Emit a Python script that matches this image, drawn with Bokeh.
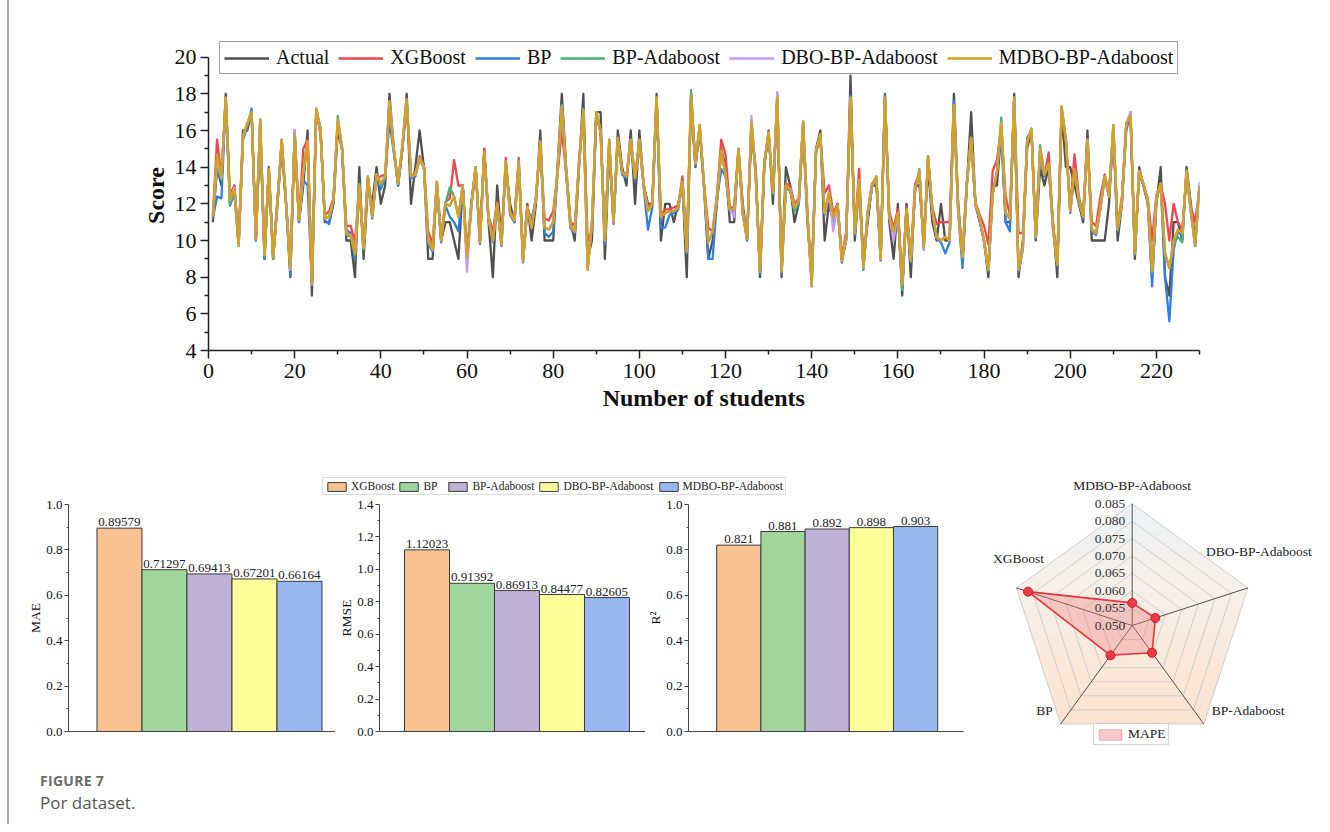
import math
from bokeh.plotting import figure
from bokeh.models import (Range1d, FixedTicker, PrintfTickFormatter, Legend, LegendItem,
                          ColumnDataSource, Div)
from bokeh.layouts import column, row
from bokeh.embed import file_html
from bokeh.resources import INLINE
from bokeh.core.properties import value

SERIF = "Liberation Serif"

# ---------------- data: line chart ----------------
students = list(range(1, 231))

actual = [
    11, 14, 13, 18, 12, 13, 10, 16, 16, 17,
    10, 16, 9, 14, 9, 12, 15, 12, 8, 16,
    11, 13, 16, 7, 17, 16, 11, 11, 12, 16,
    15, 10, 10, 8, 14, 9, 13, 12, 14, 12,
    13, 18, 15, 13, 15, 18, 12, 14, 16, 14,
    9, 9, 13, 10, 11, 11, 10, 9, 13, 9,
    12, 14, 10, 15, 11, 8, 13, 10, 14, 12,
    11, 14, 9, 12, 10, 12, 16, 10, 10, 10,
    14, 18, 14, 11, 10, 14, 18, 9, 10, 17,
    17, 9, 15, 11, 16, 14, 13, 16, 12, 16,
    13, 12, 12, 18, 10, 12, 12, 11, 12, 13,
    8, 18, 14, 16, 13, 9, 10, 12, 15, 14,
    11, 11, 15, 12, 10, 16, 14, 8, 14, 16,
    12, 18, 8, 14, 13, 11, 12, 16, 11, 8,
    15, 16, 10, 12, 11, 12, 9, 10, 19, 10,
    13, 9, 11, 13, 13, 9, 18, 11, 9, 12,
    7, 12, 8, 13, 13, 10, 14, 11, 10, 12,
    10, 10, 18, 12, 9, 13, 17, 12, 11, 10,
    8, 13, 13, 16, 11, 11, 18, 8, 10, 15,
    16, 10, 14, 13, 14, 11, 8, 17, 14, 14,
    13, 12, 11, 16, 10, 10, 10, 10, 12, 16,
    10, 12, 16, 17, 9, 14, 13, 12, 8, 12,
    14, 8, 7, 11, 11, 10, 14, 12, 10, 13]

xgboost = [
    11.4, 15.5, 13.4, 17.6, 12.5, 13.0, 9.9, 15.6, 16.2, 16.9,
    10.2, 16.4, 9.3, 13.8, 9.3, 12.2, 15.4, 12.0, 8.8, 15.6,
    11.2, 15.0, 15.5, 7.8, 17.1, 15.8, 11.4, 11.6, 12.3, 16.4,
    14.9, 10.8, 10.8, 9.9, 12.9, 9.8, 13.4, 11.5, 13.4, 13.5,
    13.6, 17.4, 15.0, 13.2, 15.1, 17.5, 13.5, 13.7, 14.6, 14.1,
    10.5, 9.8, 13.1, 10.2, 12.1, 12.3, 14.4, 13.0, 13.0, 9.4,
    12.0, 14.0, 10.0, 15.0, 11.3, 10.5, 12.1, 10.0, 14.5, 11.6,
    11.2, 14.5, 9.1, 11.9, 10.8, 12.4, 15.3, 11.2, 11.1, 11.6,
    13.6, 16.0, 13.7, 11.0, 10.8, 14.2, 16.8, 10.0, 10.5, 16.8,
    15.9, 10.2, 15.3, 11.1, 15.4, 13.8, 13.5, 15.4, 13.5, 15.3,
    13.1, 11.8, 12.1, 17.6, 11.4, 11.7, 11.7, 11.8, 11.9, 13.5,
    9.6, 17.7, 14.1, 16.2, 13.1, 10.7, 10.5, 12.5, 15.5, 14.7,
    11.8, 11.8, 14.9, 11.7, 10.3, 16.3, 13.7, 8.5, 14.2, 15.8,
    12.7, 17.6, 8.5, 13.1, 13.0, 12.0, 12.3, 16.3, 11.6, 7.8,
    14.8, 15.7, 12.6, 13.0, 11.5, 12.0, 9.1, 10.5, 17.6, 10.6,
    13.9, 8.7, 11.6, 13.1, 13.4, 9.2, 17.6, 11.6, 10.7, 11.7,
    7.9, 11.8, 9.1, 13.1, 13.6, 9.8, 14.4, 11.8, 10.9, 11.0,
    11.0, 11.0, 17.2, 11.8, 9.3, 13.2, 15.5, 12.1, 11.4, 10.8,
    9.8, 13.8, 14.4, 16.2, 12.4, 11.4, 17.6, 10.4, 10.4, 15.3,
    16.0, 10.4, 14.9, 13.5, 14.8, 10.9, 9.0, 17.1, 15.3, 11.8,
    14.7, 12.4, 11.4, 15.4, 11.0, 10.8, 12.4, 13.6, 12.5, 16.1,
    10.8, 12.4, 16.2, 16.6, 9.6, 13.7, 13.0, 12.3, 10.0, 12.5,
    13.0, 12.0, 10.0, 12.0, 11.0, 10.6, 13.6, 11.8, 11.0, 12.9]

bp = [
    11.2, 12.4, 12.3, 17.6, 11.9, 12.6, 9.8, 15.5, 16.2, 17.2,
    10.0, 16.5, 9.0, 13.8, 9.0, 12.0, 15.4, 12.0, 8.1, 15.7,
    11.0, 13.3, 13.0, 7.7, 16.9, 16.2, 11.1, 10.9, 12.1, 16.5,
    15.1, 10.6, 10.4, 9.0, 12.8, 9.5, 13.4, 11.2, 13.5, 12.8,
    13.4, 16.5, 14.8, 13.0, 15.0, 17.5, 13.4, 13.5, 14.4, 14.0,
    9.8, 9.4, 13.1, 9.9, 11.9, 11.3, 11.0, 10.5, 13.0, 9.0,
    11.8, 14.0, 9.8, 14.7, 11.1, 9.9, 11.9, 9.7, 14.2, 11.4,
    11.0, 14.2, 8.8, 11.7, 11.2, 12.2, 15.3, 10.4, 10.2, 10.5,
    13.7, 17.2, 13.7, 10.7, 10.4, 14.2, 17.0, 8.5, 10.8, 16.9,
    16.0, 9.8, 15.4, 10.9, 15.6, 13.6, 13.4, 15.4, 13.3, 15.4,
    12.9, 10.6, 11.8, 17.7, 10.7, 10.7, 11.4, 11.5, 11.7, 13.1,
    9.3, 17.8, 14.1, 16.2, 12.9, 9.0, 9.0, 12.2, 13.9, 13.5,
    11.6, 11.6, 14.9, 11.4, 10.0, 16.4, 13.5, 8.2, 14.2, 15.8,
    12.5, 17.7, 8.2, 12.9, 12.7, 11.7, 12.1, 16.4, 11.3, 7.8,
    14.8, 15.7, 11.4, 12.5, 11.2, 11.8, 8.8, 10.1, 17.9, 10.3,
    13.2, 8.4, 11.4, 12.9, 13.4, 8.9, 17.9, 11.2, 10.4, 11.4,
    7.5, 11.6, 8.8, 12.7, 13.7, 9.5, 14.5, 11.5, 10.1, 9.9,
    9.3, 9.9, 17.6, 11.5, 8.5, 13.0, 15.5, 11.9, 11.1, 9.9,
    8.3, 12.5, 13.7, 15.8, 11.0, 10.5, 17.7, 8.3, 9.5, 15.6,
    16.0, 10.1, 14.9, 13.5, 14.1, 10.6, 8.6, 17.2, 15.4, 11.5,
    13.8, 12.1, 11.2, 15.4, 10.5, 10.3, 11.7, 13.4, 12.4, 16.2,
    10.5, 12.1, 16.3, 16.7, 9.2, 13.7, 13.0, 12.1, 7.5, 12.3,
    13.0, 8.0, 5.6, 9.5, 10.5, 10.3, 13.7, 11.5, 9.7, 12.9]

bp_adaboost = [
    11.3, 14.0, 13.3, 17.7, 12.0, 12.7, 9.7, 15.6, 16.3, 17.0,
    10.0, 16.6, 9.1, 13.9, 9.0, 12.1, 15.5, 12.1, 8.4, 15.8,
    11.1, 13.6, 15.2, 7.6, 17.2, 16.1, 11.2, 11.3, 12.2, 16.8,
    15.0, 10.3, 10.2, 9.2, 13.1, 9.5, 13.5, 11.3, 13.6, 13.0,
    13.5, 17.5, 15.0, 13.1, 15.2, 17.7, 13.5, 13.6, 14.5, 14.0,
    10.0, 9.5, 13.2, 10.0, 12.0, 12.9, 12.4, 11.3, 13.0, 9.1,
    11.9, 14.0, 9.9, 14.8, 11.2, 10.0, 12.0, 9.8, 14.3, 11.5,
    11.1, 14.3, 8.9, 11.8, 10.7, 12.3, 15.4, 10.7, 10.6, 11.0,
    13.8, 17.4, 13.8, 10.8, 10.5, 14.3, 17.2, 8.5, 11.0, 17.0,
    16.0, 10.0, 15.5, 11.0, 15.6, 13.7, 13.5, 15.5, 13.4, 15.5,
    13.0, 11.6, 12.0, 17.8, 11.3, 11.5, 11.6, 11.6, 11.8, 13.2,
    9.4, 18.2, 14.2, 16.3, 13.0, 9.9, 10.5, 12.3, 14.9, 13.6,
    11.7, 11.7, 15.0, 11.5, 10.1, 16.5, 13.6, 8.3, 14.3, 15.9,
    12.6, 17.8, 8.3, 13.0, 12.8, 11.6, 12.0, 16.5, 11.4, 7.5,
    14.9, 15.8, 11.5, 12.6, 11.1, 11.9, 8.9, 10.2, 17.8, 10.4,
    13.3, 8.5, 11.5, 13.0, 13.5, 9.0, 17.8, 11.3, 10.5, 11.5,
    7.3, 11.7, 8.9, 12.8, 13.9, 9.6, 14.6, 11.6, 10.2, 10.0,
    10.2, 10.0, 17.4, 11.6, 9.1, 13.1, 15.6, 12.0, 11.2, 10.0,
    8.4, 12.6, 13.8, 16.7, 11.5, 11.2, 17.8, 8.4, 9.6, 15.4,
    16.1, 10.2, 15.2, 13.6, 14.2, 10.7, 8.7, 17.3, 15.5, 11.6,
    13.9, 12.2, 11.6, 15.5, 10.6, 10.4, 11.8, 13.5, 12.4, 16.3,
    10.6, 12.2, 16.4, 16.8, 9.3, 13.8, 13.1, 12.2, 8.3, 12.4,
    13.1, 9.3, 8.5, 9.8, 10.2, 9.9, 13.8, 11.6, 9.7, 13.0]

dbo_bp_adaboost = [
    11.3, 14.5, 13.4, 17.8, 12.2, 12.9, 9.7, 15.7, 16.4, 17.0,
    10.1, 16.6, 9.2, 13.9, 9.1, 12.1, 15.5, 12.1, 8.4, 16.0,
    11.1, 13.8, 15.4, 7.6, 17.2, 16.0, 11.2, 11.3, 12.2, 16.6,
    15.0, 10.4, 10.3, 9.3, 13.0, 9.6, 13.5, 11.3, 13.6, 13.1,
    13.5, 17.6, 15.0, 13.1, 15.2, 17.7, 13.5, 13.6, 14.5, 14.0,
    10.0, 9.5, 13.2, 10.0, 12.0, 11.9, 12.4, 11.3, 13.0, 8.3,
    11.9, 14.0, 9.9, 14.8, 11.2, 10.0, 12.0, 9.8, 14.3, 11.5,
    11.1, 14.3, 8.9, 11.8, 10.7, 12.3, 15.4, 10.7, 10.6, 11.0,
    13.8, 17.3, 13.8, 10.8, 10.5, 14.3, 17.1, 8.4, 11.0, 17.0,
    16.0, 10.0, 15.5, 11.0, 15.6, 13.7, 13.5, 15.5, 13.4, 15.5,
    13.0, 11.6, 12.0, 17.8, 11.3, 11.5, 11.6, 11.6, 11.8, 13.2,
    9.4, 17.9, 14.2, 16.3, 13.0, 9.9, 10.5, 12.3, 14.9, 13.6,
    11.7, 11.3, 15.0, 11.5, 10.1, 16.8, 13.6, 8.3, 14.3, 15.9,
    12.6, 18.1, 8.3, 13.0, 12.8, 11.8, 12.2, 16.5, 11.4, 7.5,
    14.9, 15.8, 11.5, 12.6, 10.5, 11.9, 8.9, 10.2, 17.8, 10.4,
    13.3, 8.5, 11.5, 13.0, 13.5, 9.0, 17.8, 11.3, 10.0, 11.5,
    7.6, 11.7, 8.9, 12.8, 13.8, 9.5, 14.6, 11.6, 10.2, 10.0,
    10.2, 10.0, 17.4, 11.6, 9.1, 13.1, 15.6, 12.0, 11.2, 10.0,
    8.4, 12.6, 13.8, 16.4, 11.5, 11.2, 17.8, 8.4, 9.6, 15.4,
    16.1, 10.2, 15.0, 13.6, 14.2, 10.7, 8.7, 17.3, 15.5, 11.6,
    13.9, 12.2, 11.3, 15.5, 10.6, 10.4, 11.8, 13.5, 12.4, 16.3,
    10.6, 12.2, 16.4, 17.0, 9.3, 13.8, 13.1, 12.2, 8.3, 12.4,
    13.1, 9.3, 8.5, 10.0, 10.6, 10.4, 13.8, 11.6, 9.8, 13.2]

mdbo_bp_adaboost = [
    11.3, 14.7, 13.5, 17.8, 12.2, 12.8, 9.7, 15.7, 16.4, 17.0,
    10.1, 16.6, 9.2, 13.9, 9.1, 12.1, 15.5, 12.1, 8.5, 15.8,
    11.1, 13.8, 15.4, 7.6, 17.2, 16.0, 11.2, 11.3, 12.2, 16.6,
    15.0, 10.4, 10.3, 9.3, 13.0, 9.6, 13.5, 11.3, 13.6, 13.1,
    13.5, 17.6, 15.0, 13.1, 15.2, 17.7, 13.5, 13.6, 14.5, 14.0,
    10.0, 9.5, 13.2, 10.0, 12.0, 11.9, 12.4, 11.3, 13.0, 9.1,
    11.9, 14.0, 9.9, 14.8, 11.2, 10.0, 12.0, 9.8, 14.3, 11.5,
    11.1, 14.3, 8.9, 11.8, 10.7, 12.3, 15.4, 10.7, 10.6, 11.0,
    13.8, 17.3, 13.8, 10.8, 10.5, 14.3, 17.1, 8.4, 11.0, 17.0,
    16.0, 10.0, 15.5, 11.0, 15.6, 13.7, 13.5, 15.5, 13.4, 15.5,
    13.0, 11.6, 12.0, 17.8, 11.3, 11.5, 11.6, 11.6, 11.8, 13.2,
    9.4, 17.9, 14.2, 16.3, 13.0, 9.9, 10.5, 12.3, 14.9, 13.6,
    11.7, 11.7, 15.0, 11.5, 10.1, 16.5, 13.6, 8.3, 14.3, 15.9,
    12.6, 17.8, 8.3, 13.0, 12.8, 11.8, 12.2, 16.5, 11.4, 7.5,
    14.9, 15.8, 11.5, 12.6, 11.3, 11.9, 8.9, 10.2, 17.8, 10.4,
    13.3, 8.5, 11.5, 13.0, 13.5, 9.0, 17.8, 11.3, 10.5, 11.5,
    7.6, 11.7, 8.9, 12.8, 13.8, 9.6, 14.6, 11.6, 10.2, 10.0,
    10.2, 10.0, 17.4, 11.6, 9.1, 13.1, 15.6, 12.0, 11.2, 10.0,
    8.4, 12.6, 13.8, 16.4, 11.5, 11.2, 17.8, 8.4, 9.6, 15.4,
    16.1, 10.2, 15.0, 13.6, 14.2, 10.7, 8.7, 17.3, 15.5, 11.6,
    13.9, 12.2, 11.3, 15.5, 10.6, 10.4, 11.8, 13.5, 12.4, 16.3,
    10.6, 12.2, 16.4, 16.8, 9.3, 13.8, 13.1, 12.2, 8.3, 12.4,
    13.1, 9.3, 8.5, 10.0, 10.6, 10.4, 13.8, 11.6, 9.8, 13.0]

series_names = ["Actual", "XGBoost", "BP", "BP-Adaboost", "DBO-BP-Adaboost", "MDBO-BP-Adaboost"]
series_values = [actual, xgboost, bp, bp_adaboost, dbo_bp_adaboost, mdbo_bp_adaboost]
series_colors = ["#505050", "#f0464f", "#2f7fe0", "#45b27a", "#c89af0", "#d6a21e"]

y_ticks = [4, 6, 8, 10, 12, 14, 16, 18, 20]
x_ticks = [0, 20, 40, 60, 80, 100, 120, 140, 160, 180, 200, 220]

# ---------------- data: bar charts ----------------
models = ["XGBoost", "BP", "BP-Adaboost", "DBO-BP-Adaboost", "MDBO-BP-Adaboost"]
mae = [0.89579, 0.71297, 0.69413, 0.67201, 0.66164]
rmse = [1.12023, 0.91392, 0.86913, 0.84477, 0.82605]
r2 = [0.821, 0.881, 0.892, 0.898, 0.903]
bar_colors = ["#fac191", "#a0d69b", "#c0b1d7", "#ffff99", "#99b8f0"]

# ---------------- data: radar ----------------
radar_models = ["MDBO-BP-Adaboost", "DBO-BP-Adaboost", "BP-Adaboost", "BP", "XGBoost"]
mape = [0.0565, 0.0570, 0.0597, 0.0606, 0.0815]
radar_ticks = [0.050, 0.055, 0.060, 0.065, 0.070, 0.075, 0.080, 0.085]

EDGE = 9   # width of the left rule strip of the figure panel


def style_axis(ax, tick_font, label_font, label_bold, major_out, minor_out, lw, col):
    ax.major_tick_in = 0
    ax.minor_tick_in = 0
    ax.major_tick_out = major_out
    ax.minor_tick_out = minor_out
    ax.axis_line_color = col
    ax.major_tick_line_color = col
    ax.minor_tick_line_color = col
    ax.axis_line_width = lw
    ax.major_tick_line_width = lw
    ax.minor_tick_line_width = lw
    ax.major_label_text_font = SERIF
    ax.major_label_text_font_size = tick_font
    ax.major_label_text_color = "#111111"
    ax.axis_label_text_font = SERIF
    ax.axis_label_text_font_size = label_font
    ax.axis_label_text_font_style = "bold" if label_bold else "normal"
    ax.axis_label_text_color = "#111111"


# ================= top line chart =================
Y_TOP = 20 + 16.7 / 18.333   # frame reaches up to the legend box; axis line stops at 20
p = figure(width=1322 - EDGE, height=476, x_range=Range1d(0, 230), y_range=Range1d(4, Y_TOP),
           output_backend="svg", toolbar_location=None,
           min_border_left=208 - EDGE, min_border_right=123, min_border_top=40,
           min_border_bottom=126)
p.outline_line_color = None
p.grid.visible = False

rends = []
for name, vals, col in zip(series_names, series_values, series_colors):
    r = p.line(students, vals, line_color=col, line_width=2.3, line_join="round")
    rends.append(r)

p.yaxis.ticker = FixedTicker(ticks=y_ticks, minor_ticks=[t + 1 for t in y_ticks[:-1]])
p.yaxis.bounds = (4, 20)
p.xaxis.ticker = FixedTicker(ticks=x_ticks, minor_ticks=[t + 10 for t in x_ticks])
p.xaxis.axis_label = "Number of students"
p.yaxis.axis_label = "Score"
for ax in (p.xaxis[0], p.yaxis[0]):
    style_axis(ax, "22px", "24px", True, 8, 4, 1.5, "#222222")
p.yaxis.major_label_standoff = 4
p.xaxis.major_label_standoff = 5
p.xaxis.axis_label_standoff = 4
p.yaxis.axis_label_standoff = 3

leg = Legend(items=[LegendItem(label=n, renderers=[r]) for n, r in zip(series_names, rends)],
             orientation="horizontal", location=(11, 276),
             label_text_font=SERIF, label_text_font_size="20px", label_text_color="#111111",
             glyph_width=45, glyph_height=20, label_height=20, label_standoff=7, spacing=9,
             padding=4, margin=0, border_line_color="#444444", border_line_width=1,
             background_fill_color="white", background_fill_alpha=1.0)
p.add_layout(leg)

# ================= bar legend strip =================
lf = figure(width=975 - EDGE, height=20, x_range=Range1d(0, 1), y_range=Range1d(0, 1),
            output_backend="svg", toolbar_location=None, min_border=0,
            x_axis_location=None, y_axis_location=None)
lf.outline_line_color = None
lf.grid.visible = False
legend_swatch_x = [5.0]
legend_swatch_top = [1.0]
dummy = [lf.vbar(x=legend_swatch_x, top=legend_swatch_top, width=0.5, fill_color=c,
                 line_color="#3a3a3a") for c in bar_colors]
bleg = Legend(items=[LegendItem(label=m, renderers=[r]) for m, r in zip(models, dummy)],
              orientation="horizontal", location=(322 - EDGE, 1),
              label_text_font=SERIF, label_text_font_size="11.5px", label_text_color="#222222",
              glyph_width=23, glyph_height=11, label_height=12, label_standoff=3, spacing=3,
              padding=2, margin=0, border_line_color="#bbbbbb", border_line_width=1)
lf.add_layout(bleg)


# ================= bar charts =================
def bar_fig(width, mbl, mbr, x0, x1, vals, fmt, ymax, ylabel):
    f = figure(width=width, height=264, x_range=Range1d(x0, x1), y_range=Range1d(0, ymax),
               output_backend="svg", toolbar_location=None,
               min_border_left=mbl, min_border_right=mbr, min_border_top=8, min_border_bottom=29)
    f.outline_line_color = None
    f.grid.visible = False
    src = ColumnDataSource(dict(x=[1, 2, 3, 4, 5], top=vals, color=bar_colors,
                                label=[fmt.format(v) for v in vals]))
    f.vbar(x="x", top="top", width=1.0, fill_color="color", line_color="#3a3a3a",
           line_width=1, source=src)
    f.text(x="x", y="top", text="label", text_align="center", text_baseline="bottom",
           y_offset=-2, text_font=value(SERIF), text_font_size="13px", text_color="#222222",
           source=src)
    n = int(round(ymax / 0.2))
    majors = [round(0.2 * i, 1) for i in range(n + 1)]
    minors = [round(0.2 * i + 0.1, 1) for i in range(n)]
    f.yaxis.ticker = FixedTicker(ticks=majors, minor_ticks=minors)
    f.yaxis.formatter = PrintfTickFormatter(format="%.1f")
    f.yaxis.axis_label = ylabel
    style_axis(f.yaxis[0], "13px", "13.5px", False, 4, 2, 1, "#444444")
    f.yaxis.major_label_standoff = 2
    f.yaxis.axis_label_standoff = 0
    f.xaxis.ticker = FixedTicker(ticks=[])
    f.xaxis.major_label_text_font_size = "0px"
    f.xaxis.major_tick_line_color = None
    f.xaxis.minor_tick_line_color = None
    f.xaxis.axis_line_color = "#444444"
    f.xaxis.axis_line_width = 1
    return f


b1 = bar_fig(335 - EDGE, 68 - EDGE, 0, -0.133, 5.8, mae, "{:.5f}", 1.0, "MAE")
b2 = bar_fig(310, 44, 0, -0.056, 5.856, rmse, "{:.5f}", 1.4, "RMSE")
b3 = bar_fig(330, 38, 12, -0.138, 6.084, r2, "{:.3f}", 1.0, "R²")

# ================= radar chart =================
R_PX = 121.7
cx_px, cy_px = 156.7, 135.0
rf = figure(width=347, height=284,
            x_range=Range1d(-cx_px / R_PX, (347 - cx_px) / R_PX),
            y_range=Range1d(-cy_px / R_PX, (284 - cy_px) / R_PX),
            output_backend="svg", toolbar_location=None, min_border=0,
            x_axis_location=None, y_axis_location=None)
rf.outline_line_color = None
rf.grid.visible = False

vmin, vmax = radar_ticks[0], radar_ticks[-1]
angles = [math.radians(90 - 72 * k) for k in range(len(radar_models))]
outer = [(math.cos(a), math.sin(a)) for a in angles]


def clip_half(pts, keep, yc):
    out = []
    for i in range(len(pts)):
        cur, prev = pts[i], pts[i - 1]
        kc, kp = keep(cur), keep(prev)
        if kc:
            if not kp:
                t = (yc - prev[1]) / (cur[1] - prev[1])
                out.append((prev[0] + t * (cur[0] - prev[0]), yc))
            out.append(cur)
        elif kp:
            t = (yc - prev[1]) / (cur[1] - prev[1])
            out.append((prev[0] + t * (cur[0] - prev[0]), yc))
    return out


def mix(c1, c2, t):
    a = [int(c1[i:i + 2], 16) for i in (1, 3, 5)]
    b = [int(c2[i:i + 2], 16) for i in (1, 3, 5)]
    return "#%02x%02x%02x" % tuple(int(round(a[j] + (b[j] - a[j]) * t)) for j in range(3))


ymin_p = min(pt[1] for pt in outer)
nb = 40
bx, by, bc = [], [], []
for i in range(nb):
    y0 = ymin_p + (1 - ymin_p) * i / nb
    y1 = ymin_p + (1 - ymin_p) * (i + 1) / nb
    poly = clip_half(outer, lambda q: q[1] >= y0, y0)
    if poly:
        poly = clip_half(poly, lambda q: q[1] <= y1, y1)
    if len(poly) >= 3:
        bx.append([q[0] for q in poly])
        by.append([q[1] for q in poly])
        t = (y0 - ymin_p) / (1 - ymin_p)
        if t < 0.55:
            bc.append(mix("#fbe3d0", "#f8eee6", t / 0.55))
        else:
            bc.append(mix("#f8eee6", "#ebf3f6", (t - 0.55) / 0.45))
rf.patches(bx, by, fill_color=bc, line_color=bc, line_width=0.6)

ring_x, ring_y = [], []
for tv in radar_ticks[1:]:
    rr = (tv - vmin) / (vmax - vmin)
    ring_x.append([rr * math.cos(a) for a in angles] + [rr * math.cos(angles[0])])
    ring_y.append([rr * math.sin(a) for a in angles] + [rr * math.sin(angles[0])])
rf.multi_line(ring_x, ring_y, line_color="#cbcbcb", line_width=0.9)

rf.segment(x0=[0] * 5, y0=[0] * 5, x1=[q[0] for q in outer], y1=[q[1] for q in outer],
           line_color="#505050", line_width=1)

rr_data = [(v - vmin) / (vmax - vmin) for v in mape]
px = [r * math.cos(a) for r, a in zip(rr_data, angles)]
py = [r * math.sin(a) for r, a in zip(rr_data, angles)]
rf.patch(px, py, fill_color="#f07a80", fill_alpha=0.35, line_color="#e8343c", line_width=1.6)
rf.scatter(px, py, size=9, fill_color="#ee3a42", line_color="#c41e27", line_width=1)

tsrc = ColumnDataSource(dict(x=[0] * len(radar_ticks),
                             y=[(t - vmin) / (vmax - vmin) for t in radar_ticks],
                             t=["%.3f" % t for t in radar_ticks]))
rf.text(x="x", y="y", text="t", source=tsrc, text_align="right", text_baseline="middle",
        x_offset=-7, text_font=value(SERIF), text_font_size="13.5px", text_color="#333333")

lsrc = ColumnDataSource(dict(x=[q[0] for q in outer], y=[q[1] for q in outer], t=radar_models,
                             dx=[0, 11, 8, -8, 2], dy=[-18, -36, -13, -13, -29],
                             al=["center", "center", "left", "right", "center"]))
rf.text(x="x", y="y", text="t", source=lsrc, x_offset="dx", y_offset="dy", text_align="al",
        text_baseline="middle", text_font=value(SERIF), text_font_size="13.5px",
        text_color="#222222")

mape_dummy = rf.patch([5.0, 5.1, 5.1], [5.0, 5.0, 5.1], fill_color="#f8c9cc",
                      line_color="#f2a5aa", line_width=1)
rleg = Legend(items=[LegendItem(label="MAPE", renderers=[mape_dummy])], location=(118, 15),
              label_text_font=SERIF, label_text_font_size="13.5px", label_text_color="#222222",
              glyph_width=28, glyph_height=13, label_height=13, label_standoff=4, padding=2,
              margin=0, border_line_color="#aaaaaa", border_line_width=1)
rf.add_layout(rleg)

# ================= caption =================
caption = Div(
    text=('<div style="position:relative;width:%dpx;height:56px;font-family:\'Open Sans\',sans-serif;">'
          '<div style="position:absolute;left:%dpx;top:12px;font-size:14px;font-weight:700;'
          'color:#6b6b6b;line-height:18px;letter-spacing:0.3px;">FIGURE 7</div>'
          '<div style="position:absolute;left:%dpx;top:32px;font-size:17px;color:#555555;'
          'line-height:22px;">Por dataset.</div></div>') % (1322 - EDGE, 40 - EDGE, 40 - EDGE),
    width=1322 - EDGE, height=56, margin=0)

# thin grey rule on the left edge of the figure panel
rule = Div(text=('<div style="position:relative;width:%dpx;height:824px;">'
                 '<div style="position:absolute;left:7px;top:0px;width:2px;height:824px;'
                 'background:#a6a6a6;"></div></div>') % EDGE,
           width=EDGE, height=824, margin=0)

main = column(p, row(column(lf, row(b1, b2, b3)), rf), caption)
layout = row(rule, main)
open("out.html", "w").write(file_html(layout, INLINE))
